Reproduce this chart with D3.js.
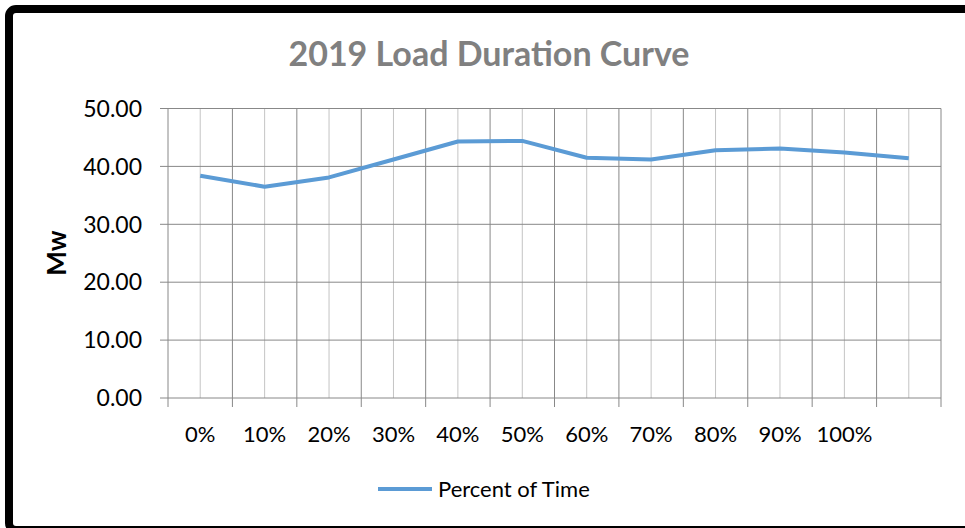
<!DOCTYPE html>
<html>
<head>
<meta charset="utf-8">
<script src="https://cdn.jsdelivr.net/npm/d3@7"></script>
<style>
  body { margin: 0; background: #fff; }
  svg text { font-family: Lato, "Open Sans", sans-serif; }
</style>
</head>
<body>
<div id="chart"></div>
<script>
// category labels (12th category has no label in the original)
const categories = ["0%", "10%", "20%", "30%", "40%", "50%", "60%", "70%", "80%", "90%", "100%", ""];
const mwValues = [38.4, 36.5, 38.1, 41.2, 44.3, 44.4, 41.5, 41.2, 42.8, 43.1, 42.4, 41.4];
const yTicks = [0, 10, 20, 30, 40, 50];
const seriesName = "Percent of Time";

function drawChart() {
    const width = 965;
    const height = 528;
    const margin = { top: 108.5, right: 24, bottom: 130, left: 168 };
    const boundedwidth = width - margin.left - margin.right;
    const boundedheight = height - margin.top - margin.bottom;

    const svg = d3.select("#chart").append("svg")
        .attr("width", width)
        .attr("height", height);

    // outer frame
    svg.append("rect")
        .attr("x", 9).attr("y", 9)
        .attr("width", 975).attr("height", 521)
        .attr("rx", 7)
        .attr("fill", "none")
        .attr("stroke", "#000")
        .attr("stroke-width", 8);

    svg.append("text")
        .attr("x", 489).attr("y", 66)
        .attr("text-anchor", "middle")
        .attr("font-size", 34)
        .attr("font-weight", "bold")
        .attr("fill", "#808080")
        .text("2019 Load Duration Curve");

    const g = svg.append("g")
        .attr("transform", "translate(" + margin.left + "," + margin.top + ")");

    const xScale = d3.scaleBand().domain(d3.range(categories.length)).range([0, boundedwidth]);
    const yScale = d3.scaleLinear().domain([0, 50]).range([boundedheight, 0]);

    // minor vertical grid at category centres
    g.append("g").selectAll("line")
        .data(d3.range(categories.length))
        .join("line")
        .attr("x1", d => xScale(d) + xScale.bandwidth() / 2)
        .attr("x2", d => xScale(d) + xScale.bandwidth() / 2)
        .attr("y1", 0).attr("y2", boundedheight)
        .attr("stroke", "#c4c4c4")
        .attr("stroke-width", 1);

    // major vertical grid at category boundaries
    g.append("g").selectAll("line")
        .data(d3.range(categories.length + 1))
        .join("line")
        .attr("x1", d => d * xScale.step())
        .attr("x2", d => d * xScale.step())
        .attr("y1", 0).attr("y2", boundedheight + 9)
        .attr("stroke", "#888")
        .attr("stroke-width", 1);

    // horizontal grid
    g.append("g").selectAll("line")
        .data(yTicks)
        .join("line")
        .attr("x1", -8).attr("x2", boundedwidth)
        .attr("y1", d => yScale(d)).attr("y2", d => yScale(d))
        .attr("stroke", "#888")
        .attr("stroke-width", 1);

    // y tick labels
    g.append("g").selectAll("text")
        .data(yTicks)
        .join("text")
        .attr("x", -26)
        .attr("y", d => yScale(d))
        .attr("dy", "0.36em")
        .attr("text-anchor", "end")
        .attr("font-size", 23)
        .attr("fill", "#000")
        .text(d => d3.format(".2f")(d));

    // x tick labels
    g.append("g").selectAll("text")
        .data(categories)
        .join("text")
        .attr("x", (d, i) => xScale(i) + xScale.bandwidth() / 2)
        .attr("y", 442 - margin.top)
        .attr("text-anchor", "middle")
        .attr("font-size", 22)
        .attr("fill", "#000")
        .text(d => d);

    svg.append("text")
        .attr("transform", "translate(66,253) rotate(-90)")
        .attr("text-anchor", "middle")
        .attr("font-size", 26)
        .attr("font-weight", "bold")
        .attr("fill", "#000")
        .text("Mw");

    const line = d3.line()
        .x((d, i) => xScale(i) + xScale.bandwidth() / 2)
        .y(d => yScale(d));

    g.append("path").datum(mwValues)
        .attr("fill", "none")
        .attr("stroke", "#5b9bd5")
        .attr("stroke-width", 4)
        .attr("stroke-linejoin", "round")
        .attr("d", line);

    // legend
    svg.append("line")
        .attr("x1", 378).attr("x2", 432)
        .attr("y1", 489).attr("y2", 489)
        .attr("stroke", "#5b9bd5")
        .attr("stroke-width", 4);

    svg.append("text")
        .attr("x", 438).attr("y", 497)
        .attr("font-size", 22)
        .attr("fill", "#000")
        .text(seriesName);
}
drawChart();
</script>
</body>
</html>
